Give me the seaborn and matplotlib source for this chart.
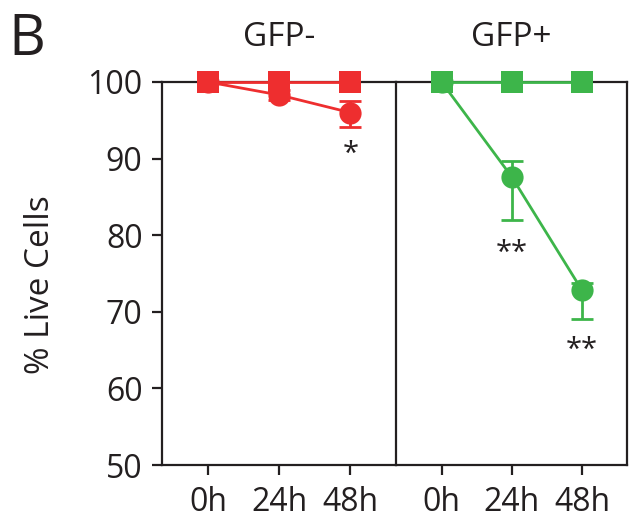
import matplotlib
matplotlib.use("Agg")
import matplotlib.pyplot as plt
import seaborn as sns
import pandas as pd
import numpy as np

sns.set_theme(style="ticks")
plt.rcParams['font.family'] = ['Open Sans', 'DejaVu Sans']

times = ["0h", "24h", "48h"]
panels = ["GFP-", "GFP+"]
colors = {"GFP-": "#EE2E2F", "GFP+": "#3DB54A"}

# control (squares) and treated (circles) values
ctrl_neg = [100, 100, 100]
trt_neg = [100, 98.3, 96.0]
trt_neg_err_lo = [0, 0.6, 1.9]
trt_neg_err_hi = [0, 0.6, 1.5]
ctrl_pos = [100, 100, 100]
trt_pos = [100, 87.6, 72.8]
trt_pos_err_lo = [0, 5.6, 3.7]
trt_pos_err_hi = [0, 2.1, 1.0]
stars = {"GFP-": [("", 0), ("", 0), ("*", 90.6)],
         "GFP+": [("", 0), ("**", 77.6), ("**", 64.9)]}

rows = []
for p, c, t in [("GFP-", ctrl_neg, trt_neg), ("GFP+", ctrl_pos, trt_pos)]:
    for i, tm in enumerate(times):
        rows.append(dict(panel=p, x=i, group="ctrl", value=c[i]))
        rows.append(dict(panel=p, x=i, group="trt", value=t[i]))
df = pd.DataFrame(rows)

errs = {"GFP-": (trt_neg, trt_neg_err_lo, trt_neg_err_hi),
        "GFP+": (trt_pos, trt_pos_err_lo, trt_pos_err_hi)}

fig = plt.figure(figsize=(6.3, 5.25), dpi=100)
bottom = 1 - 465/525
top = 1 - 82/525
h = top - bottom
ax1 = fig.add_axes([162/630, bottom, (396-162)/630, h])
ax2 = fig.add_axes([396/630, bottom, (627-396)/630, h])

for ax, p in [(ax1, "GFP-"), (ax2, "GFP+")]:
    sub = df[df.panel == p]
    col = colors[p]
    sns.lineplot(data=sub, x="x", y="value", style="group",
                 markers={"ctrl": "s", "trt": "o"}, dashes=False,
                 color=col, markersize=16, markeredgewidth=0,
                 linewidth=2.0, legend=False, errorbar=None,
                 ax=ax, clip_on=False, zorder=3)
    v, lo, hi = errs[p]
    xs = np.arange(len(times))
    ax.errorbar(xs[1:], v[1:], yerr=[lo[1:], hi[1:]], fmt="none",
                ecolor=col, elinewidth=2.0, capsize=8, capthick=2.0,
                zorder=2, clip_on=False)
    for i, (s, yv) in enumerate(stars[p]):
        if s:
            ax.text(i, yv, s, ha="center", va="center", fontsize=21,
                    color="#231F20")
    ax.set_xlim(-0.65, 2.64)
    ax.set_ylim(50, 100)
    ax.set_xticks(xs)
    ax.set_xticklabels(times)
    ax.set_xlabel("")
    ax.set_ylabel("")
    ax.set_title(p, fontsize=24, pad=26, color="#231F20")
    for s in ax.spines.values():
        s.set_linewidth(1.6)
        s.set_color("#231F20")
    ax.tick_params(axis="x", direction="out", length=7, width=1.6,
                   labelsize=23, pad=8, colors="#231F20")
    ax.tick_params(axis="y", direction="out", length=7, width=1.6,
                   labelsize=23, pad=7, colors="#231F20")

ax1.spines["right"].set_visible(False)
ax1.set_yticks([50, 60, 70, 80, 90, 100])
ax1.set_ylabel("% Live Cells", fontsize=24, color="#231F20")
ax1.yaxis.set_label_coords(-0.45, 0.47)
ax2.set_yticks([50, 60, 70, 80, 90, 100])
ax2.tick_params(axis="y", left=False, labelleft=False)

fig.text(8/630, 1 - 55/525, "B", fontsize=41, color="#231F20",
         ha="left", va="baseline")

fig.savefig("out.png", dpi=100)
